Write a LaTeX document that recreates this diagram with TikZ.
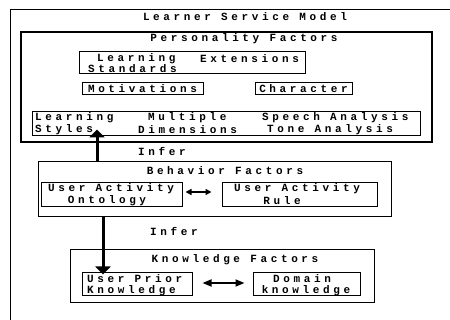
\documentclass[tikz,border=0pt]{standalone}
\usepackage{fontspec}
\usetikzlibrary{fit,arrows.meta}
\newfontfamily\dotfont[LetterSpace=33]{Liberation Mono}
\tikzset{
  lbl/.style={font=\dotfont\bfseries\fontsize{11}{12}\selectfont, inner sep=0pt},
  lblw/.style={lbl, anchor=west},
  frame/.style={draw, line width=1pt, inner sep=0pt},
  thickarrow/.style={line width=3pt, -{Triangle[width=15pt,length=8pt]}},
  twoway/.style={line width=1.6pt, {Triangle[width=6pt,length=6pt]}-{Triangle[width=6pt,length=6pt]}},
  twowaybig/.style={line width=1.8pt, {Triangle[width=7pt,length=9pt]}-{Triangle[width=7pt,length=9pt]}}
}
\begin{document}
\begin{tikzpicture}[x=1pt,y=-1pt]
\useasboundingbox (0,0) rectangle (450,320);
% outer frame of the whole model (runs on past the page)
\coordinate (outerBL) at (10,320);
\coordinate (outerTL) at (10,10);
\coordinate (outerTR) at (450,10);
\draw[line width=1pt] (outerBL) -- (outerTL) -- (outerTR);
\node[lbl] (title) at (245,17) {Learner Service Model};

% personality factors
\node[frame, line width=1.3pt, fit={(21,32) (432,142)}] (pers) {};
\node[lbl] (persT) at (244,39) {Personality Factors};
\node[frame, fit={(79,52) (305,74)}] (stdbox) {};
\node[lblw] (std1) at (97,58.5) {Learning};
\node[lblw] (std2) at (200,58.5) {Extensions};
\node[lblw] (std3) at (88,69) {Standards};
\node[frame, fit={(82,83) (203,95)}] (motbox) {};
\node[lbl] (mot) at (142.5,89) {Motivations};
\node[frame, fit={(255,83) (352,95)}] (charbox) {};
\node[lbl] (char) at (303.5,89) {Character};
\node[frame, fit={(32,112) (420,136)}] (stylebox) {};
\node[lblw] (ls1) at (35,118) {Learning};
\node[lblw] (ls2) at (35,129.5) {Styles};
\node[lblw] (md1) at (148,118) {Multiple};
\node[lblw] (md2) at (138,129.5) {Dimensions};
\node[lblw] (sa1) at (262,118) {Speech Analysis};
\node[lblw] (sa2) at (267,129.5) {Tone Analysis};

\node[lbl] (infer1) at (162,151) {Infer};

% behavior factors
\node[frame, fit={(38,162) (391,217)}] (beh) {};
\node[lbl] (behT) at (225,171) {Behavior Factors};
\node[frame, fit={(41,183) (182,207)}] (ontbox) {};
\node[lbl] (ont1) at (111,189) {User Activity};
\node[lbl] (ont2) at (107,200.5) {Ontology};
\node[frame, fit={(222,183) (377,207)}] (rulebox) {};
\node[lbl] (rule1) at (297,189) {User Activity};
\node[lbl] (rule2) at (282,200.5) {Rule};

\node[lbl] (infer2) at (174,231) {Infer};

% knowledge factors
\node[frame, fit={(70,250) (374,303)}] (know) {};
\node[lbl] (knowT) at (235,260) {Knowledge Factors};
\node[frame, fit={(82,273) (192,296)}] (upkbox) {};
\node[lblw] (upk1) at (87,279) {User Prior};
\node[lblw] (upk2) at (87,290.5) {Knowledge};
\node[frame, fit={(253,273) (360,296)}] (dombox) {};
\node[lbl] (dom1) at (302,279) {Domain};
\node[lbl] (dom2) at (306,290.5) {knowledge};

% connectors
\coordinate (a1) at (97,0);
\coordinate (a2) at (103,0);
\draw[thickarrow, shorten >=-7pt] (beh.north -| a1) -- (stylebox.south -| a1);
\draw[thickarrow, shorten >=-2pt] (beh.south -| a2) -- (upkbox.north -| a2);
\draw[twoway, shorten <=3pt, shorten >=10pt] (ontbox.east |- 0,192) -- (rulebox.west |- 0,192);
\draw[twowaybig, shorten <=10pt, shorten >=8pt] (upkbox.east |- 0,283) -- (dombox.west |- 0,283);
\end{tikzpicture}
\end{document}
